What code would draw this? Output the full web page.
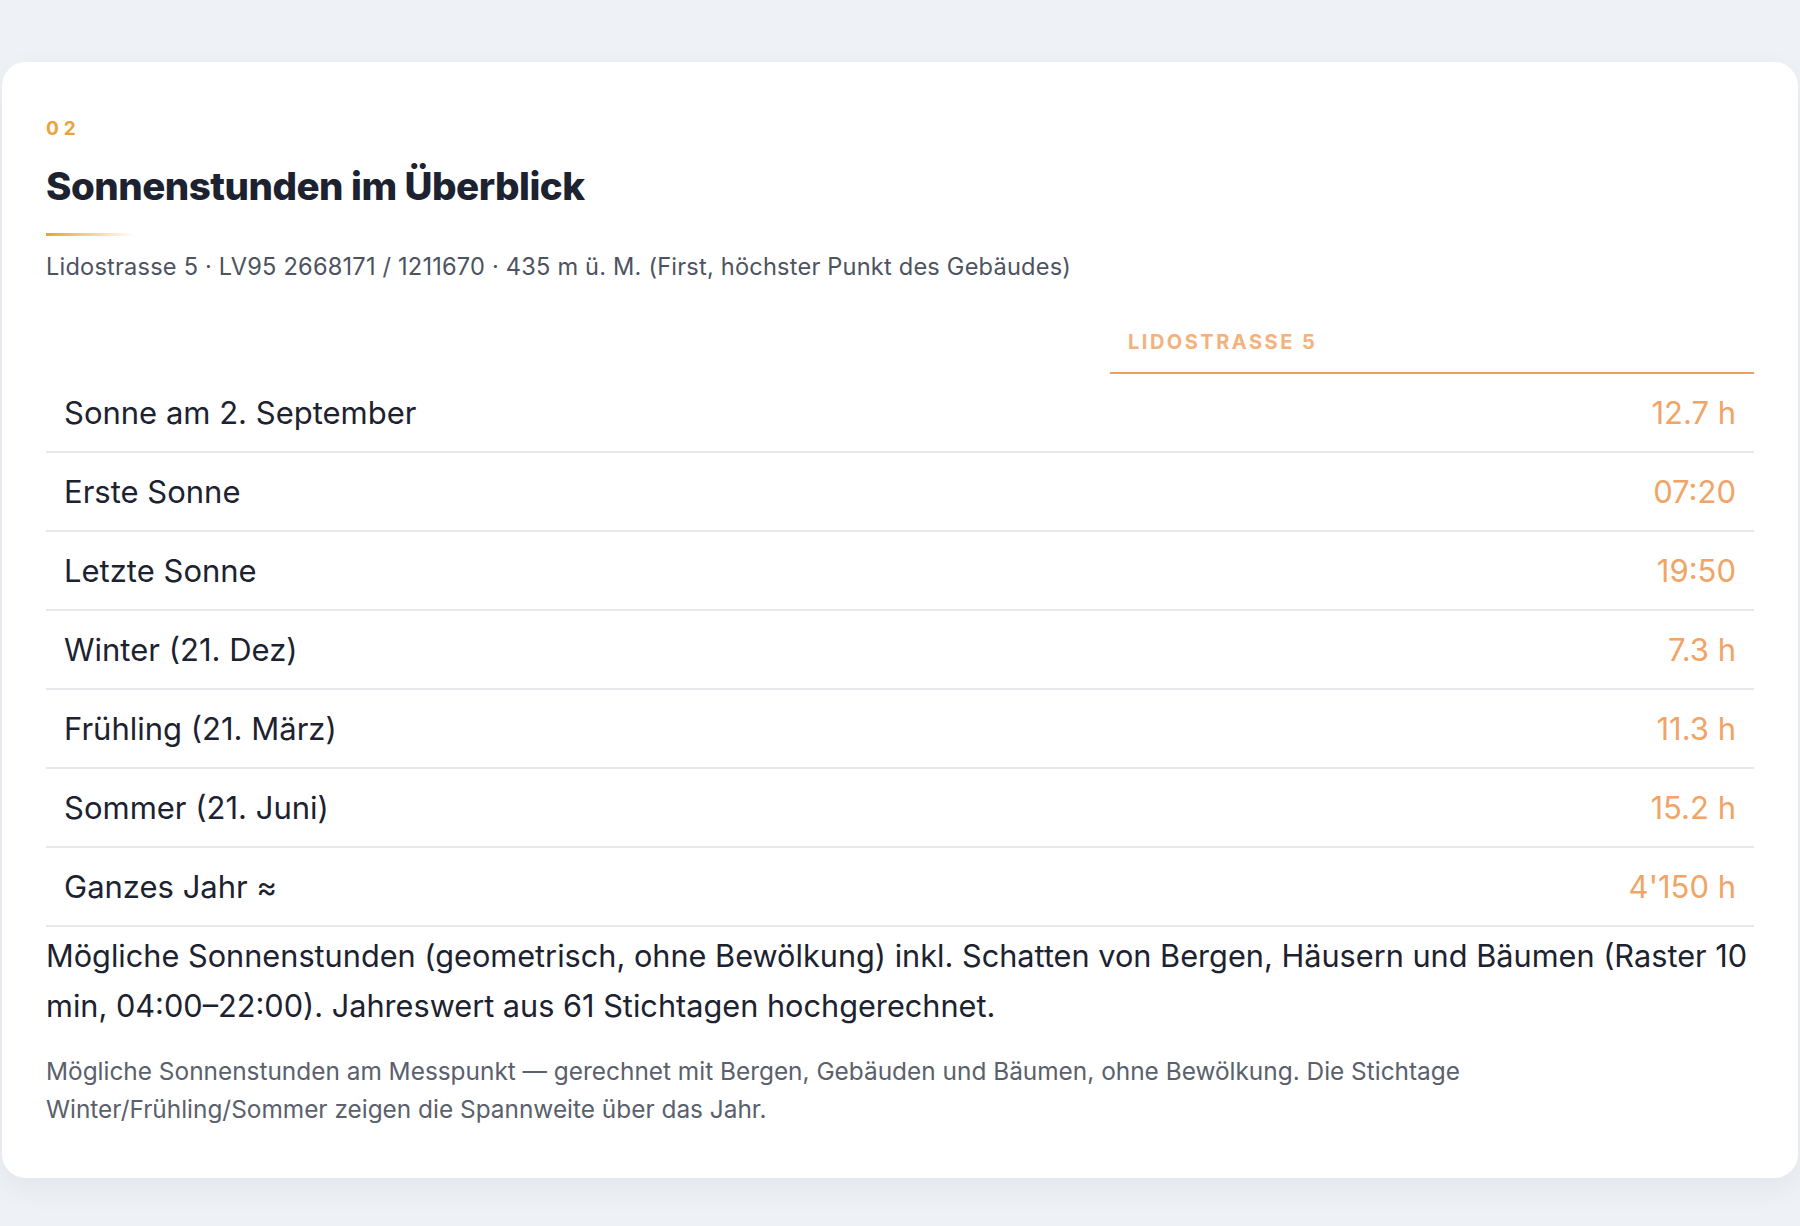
<!DOCTYPE html>
<html lang="de">
<head>
<meta charset="utf-8">
<script src="https://cdn.jsdelivr.net/npm/chart.js@4/dist/chart.umd.min.js"></script>
<style>
  html, body { margin: 0; padding: 0; }
  body {
    width: 1800px; height: 1226px; background: #eef1f5;
    font-family: Inter, "Noto Sans", sans-serif; color: #1d2230;
    position: relative; overflow: hidden;
  }
  .card {
    position: absolute; left: 2px; top: 62px; width: 1796px; height: 1116px;
    background: #fff; border-radius: 24px; box-shadow: 0 10px 30px rgba(30,40,60,0.06);
    box-sizing: border-box;
  }
  .num { position: absolute; left: 44px; top: 55px; font-size: 19px; font-weight: 700; color: #e8a43a; letter-spacing: 5px; }
  h2 { position: absolute; left: 44px; top: 101px; margin: 0; font-size: 38.5px; font-weight: 800; letter-spacing: -0.5px; }
  .bar { position: absolute; left: 44px; top: 171px; width: 88px; height: 3px; background: linear-gradient(90deg, #eba42c, rgba(235,164,44,0)); }
  .sub { position: absolute; left: 44px; top: 190px; font-size: 23.6px; color: #4d5361; letter-spacing: 0.2px; }
  table { position: absolute; left: 44px; top: 250px; width: 1708px; border-collapse: collapse; }
  th { height: 60px; text-align: left; font-size: 20px; font-weight: 700; color: #f2b27c; letter-spacing: 2.5px; padding: 0 0 0 18px; border-bottom: 2px solid #ee9f5c; }
  th.empty { border-bottom: none; }
  td { height: 77px; padding: 0; border-bottom: 2px solid #e6e8ec; font-size: 31px; }
  td.l { padding-left: 18px; color: #1d2230; }
  td.v { text-align: right; padding-right: 18px; color: #f0a466; }
  .note { position: absolute; left: 44px; top: 869px; width: 1720px; font-size: 30.7px; line-height: 50px; color: #1d2230; }
  .small { position: absolute; left: 44px; top: 990px; width: 1500px; font-size: 24.4px; line-height: 38px; color: #5a606c; }
</style>
</head>
<body>
<div class="card">
  <div class="num">02</div>
  <h2>Sonnenstunden im Überblick</h2>
  <div class="bar"></div>
  <div class="sub">Lidostrasse 5 · LV95 2668171 / 1211670 · 435 m ü. M. (First, höchster Punkt des Gebäudes)</div>
  <table id="tbl"></table>
  <div class="note">Mögliche Sonnenstunden (geometrisch, ohne Bewölkung) inkl. Schatten von Bergen, Häusern und Bäumen (Raster 10 min, 04:00–22:00). Jahreswert aus 61 Stichtagen hochgerechnet.</div>
  <div class="small">Mögliche Sonnenstunden am Messpunkt — gerechnet mit Bergen, Gebäuden und Bäumen, ohne Bewölkung. Die Stichtage Winter/Frühling/Sommer zeigen die Spannweite über das Jahr.</div>
</div>
<script>
const columns = ['LIDOSTRASSE 5'];
const labels = ['Sonne am 2. September', 'Erste Sonne', 'Letzte Sonne', 'Winter (21. Dez)', 'Frühling (21. März)', 'Sommer (21. Juni)', 'Ganzes Jahr ≈'];
const values = ['12.7 h', '07:20', '19:50', '7.3 h', '11.3 h', '15.2 h', "4'150 h"];

const tbl = document.getElementById('tbl');
let html = '<tr><th class="empty" style="width:1046px"></th><th>' + columns[0] + '</th></tr>';
labels.forEach((l, i) => {
  html += '<tr><td class="l">' + l + '</td><td class="v">' + values[i] + '</td></tr>';
});
tbl.innerHTML = html;
</script>
</body>
</html>
